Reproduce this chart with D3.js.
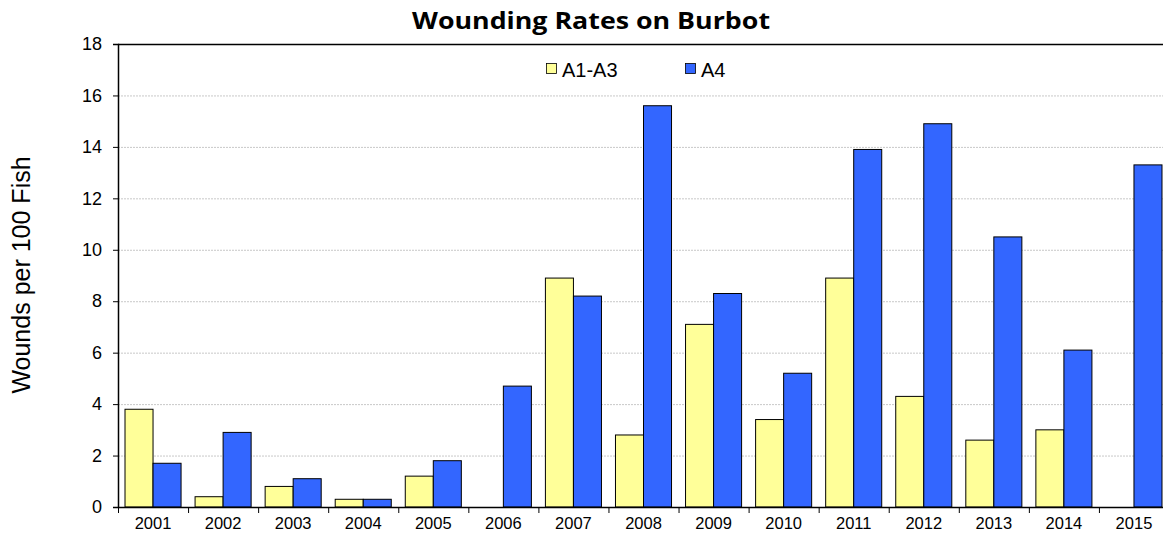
<!DOCTYPE html>
<html><head><meta charset="utf-8">
<script src="https://cdn.jsdelivr.net/npm/d3@7"></script>
<style>body{margin:0;background:#fff}</style>
</head><body>
<svg id="c" width="1163" height="540"></svg>
<script>
const years = ["2001","2002","2003","2004","2005","2006","2007","2008","2009","2010","2011","2012","2013","2014","2015"];
const a1a3 = [3.8,0.4,0.8,0.3,1.2,0,8.9,2.8,7.1,3.4,8.9,4.3,2.6,3.0,0];
const a4 = [1.7,2.9,1.1,0.3,1.8,4.7,8.2,15.6,8.3,5.2,13.9,14.9,10.5,6.1,13.3];
const seriesNames = ["A1-A3","A4"];
const colors = ["#FFFF99","#3366FF"];
const yTicks = [0,2,4,6,8,10,12,14,16,18];

const svg = d3.select("#c");
const L=118, R=1169, T=44, B=507;
const x = d3.scaleBand().domain(years).range([L,R]).paddingInner(0).paddingOuter(0);
const y = d3.scaleLinear().domain([0,18]).range([B,T]);
const inner = d3.scaleBand().domain([0,1]).range([0,x.bandwidth()]).paddingInner(0).paddingOuter(0.25);
const sans = "Liberation Sans, Arial, sans-serif";

// gridlines
svg.append("g").selectAll("line").data(yTicks.filter(d=>d>0&&d<18)).join("line")
  .attr("x1",L).attr("x2",1163).attr("y1",d=>y(d)+0.5).attr("y2",d=>y(d)+0.5)
  .attr("stroke","#c8c8c8").attr("stroke-width",1).attr("stroke-dasharray","2,1");

// top border
svg.append("line").attr("x1",L).attr("x2",1163).attr("y1",T+0.5).attr("y2",T+0.5).attr("stroke","#000").attr("stroke-width",1.6);

// bars
const data = [a1a3,a4];
data.forEach((vals,si)=>{
  svg.append("g").selectAll("rect").data(vals.map((v,i)=>({v,yr:years[i]})).filter(d=>d.v>0)).join("rect")
    .attr("x",d=>x(d.yr)+inner(si)).attr("width",inner.bandwidth())
    .attr("y",d=>y(d.v)).attr("height",d=>B-y(d.v))
    .attr("fill",colors[si]).attr("stroke","#000").attr("stroke-width",1);
});

// y axis
const ya = svg.append("g").attr("transform",`translate(${L},0)`)
  .call(d3.axisLeft(y).tickValues(yTicks).tickSize(5).tickPadding(11));
ya.select(".domain").attr("stroke","#000").attr("stroke-width",1.5);
ya.selectAll(".tick line").attr("stroke","#000");
ya.selectAll("text").attr("font-family",sans).attr("font-size",18).attr("fill","#000");

// x axis
const xa = svg.append("g").attr("transform",`translate(0,${B})`)
  .call(d3.axisBottom(x).tickSize(0).tickPadding(10));
xa.select(".domain").attr("stroke","#000").attr("stroke-width",1.5);
xa.selectAll("text").attr("font-family",sans).attr("font-size",16.5).attr("fill","#000");
svg.append("g").selectAll("line").data(years).join("line")
  .attr("x1",d=>x(d)+0.5).attr("x2",d=>x(d)+0.5).attr("y1",B).attr("y2",B+6).attr("stroke","#000");

// title
svg.append("text").attr("x",591).attr("y",29).attr("text-anchor","middle")
  .attr("font-family","Open Sans, Lato, sans-serif").attr("font-weight","bold").attr("font-size",23)
  .attr("textLength",358).attr("lengthAdjust","spacingAndGlyphs").text("Wounding Rates on Burbot");

// y label
svg.append("text").attr("transform","translate(30,275) rotate(-90)").attr("text-anchor","middle")
  .attr("font-family",sans).attr("font-size",25).text("Wounds per 100 Fish");

// legend
const lx=[546,685];
seriesNames.forEach((n,i)=>{
  svg.append("rect").attr("x",lx[i]+0.5).attr("y",63.5).attr("width",10).attr("height",10)
    .attr("fill",colors[i]).attr("stroke","#000").attr("stroke-width",0.8);
  svg.append("text").attr("x",lx[i]+16).attr("y",77).attr("font-family",sans)
    .attr("font-size",20).text(n);
});
</script>
</body></html>
